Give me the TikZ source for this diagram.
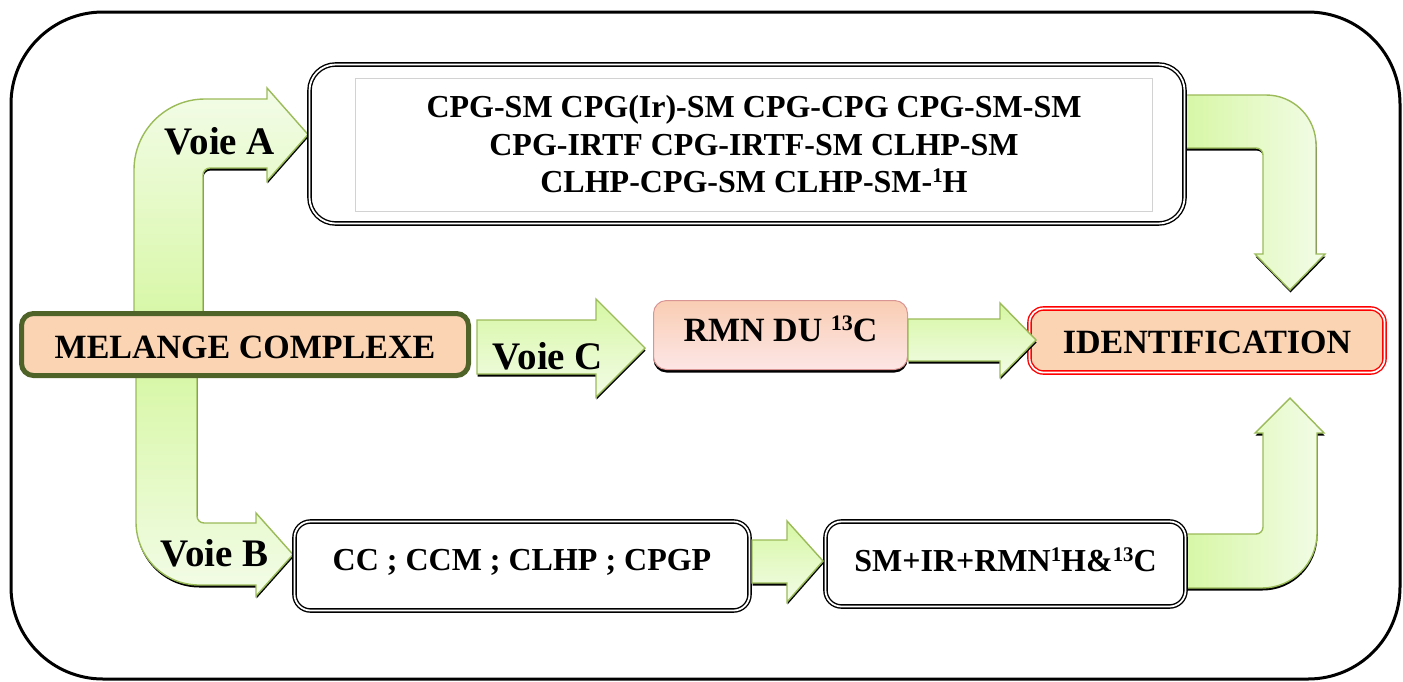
\documentclass[tikz,border=0pt]{standalone}
\usepackage{fontspec}
\setmainfont{Liberation Serif}
\usetikzlibrary{shadows}
\definecolor{peach}{HTML}{FBD4B4}
\definecolor{oliveb}{HTML}{4F6228}
\definecolor{gdark}{HTML}{D6F7A3}
\definecolor{glight}{HTML}{F3FCE8}
\definecolor{gedge}{HTML}{9BBB59}
\definecolor{rmntop}{HTML}{F9CDB3}
\definecolor{rmnbot}{HTML}{FDE6E6}
\definecolor{rmnedge}{HTML}{D99594}
\newcommand\supx[1]{\raisebox{0.33em}{\scalebox{0.65}{#1}}}
\newcommand\fsz[1]{\fontsize{#1}{#1}\selectfont\bfseries}
\newcommand\voieApath{(134,330) -- (134,170) arc[start angle=180,end angle=270,radius=71] -- (267,99) -- (267,88) -- (308,134.5) -- (267,181) -- (267,168) -- (210,168) arc[start angle=270,end angle=180,radius=7] -- (203,330) -- cycle}
\newcommand\voieBpath{(136,360) -- (136,522) arc[start angle=180,end angle=90,radius=63] -- (256,585) -- (256,596) -- (293,554.5) -- (256,513) -- (256,523) -- (204,523) arc[start angle=90,end angle=180,radius=7] -- (197,360) -- cycle}
\newcommand\topRpath{(1180,95) -- (1266,95) arc[start angle=270,end angle=360,radius=50] -- (1316,254) -- (1325,254) -- (1290,290) -- (1255,254) -- (1263,254) -- (1263,155) arc[start angle=0,end angle=-90,radius=7] -- (1180,148) -- cycle}
\newcommand\botRpath{(1180,588) -- (1262,588) arc[start angle=90,end angle=0,radius=55] -- (1317,433) -- (1324,433) -- (1290,398) -- (1255,433) -- (1263,433) -- (1263,527) arc[start angle=0,end angle=90,radius=7] -- (1180,534) -- cycle}
\tikzset{
  garrow/.style={draw=gedge, line width=1.4pt, line join=miter,
    drop shadow={shadow xshift=0.5pt, shadow yshift=-2.5pt, fill=black, draw=none, opacity=1}},
  gvdown/.style={garrow, top color=gdark, bottom color=glight},
  gvup/.style={garrow, top color=glight, bottom color=gdark},
  ghor/.style={garrow, left color=gdark, right color=glight},
  dblbox/.style={draw=black, double=white, double distance=1.8pt, line width=1.4pt, fill=white, inner sep=0pt},
  frame/.style={draw=black, line width=3pt, rounded corners=92pt, inner sep=0pt},
  voielbl/.style={font=\fsz{39}, inner sep=0pt},
}
\begin{document}
\begin{tikzpicture}[x=1pt,y=-1pt]
\useasboundingbox (0,0) rectangle (1403,681);
\node[frame, minimum width=1389pt, minimum height=667pt] (frame) at (705.5,345.5) {};

% bent and straight block arrows (behind the boxes)
\path[gvup] \voieApath;
\path[gvdown] \voieBpath;
\path[ghor] \topRpath;
\path[ghor] \botRpath;

% boxes
\node[dblbox, rounded corners=26pt, minimum width=875pt, minimum height=159pt] (ba) at (747,144) {};
\draw[gray!35, line width=1pt] (355,78) rectangle (1152,211);
\node[font=\fsz{32}, align=center, inner sep=0pt] (ta) at (754,144.5)
  {CPG-SM CPG(Ir)-SM CPG-CPG CPG-SM-SM\\[5.5pt]CPG-IRTF CPG-IRTF-SM CLHP-SM\\[5.5pt]CLHP-CPG-SM CLHP-SM-\supx{1}H};

\node[draw=oliveb, line width=5pt, fill=peach, rounded corners=12pt, inner sep=0pt,
  minimum width=447pt, minimum height=62pt, font=\fsz{34}, text height=28.5pt, text depth=0pt]
  (mel) at (245,344.5) {MELANGE COMPLEXE};

\node[draw=rmnedge, line width=1pt, top color=rmntop, bottom color=rmnbot, rounded corners=13pt, inner sep=0pt,
  minimum width=254pt, minimum height=69pt, font=\fsz{34}, text height=22.5pt, text depth=10pt,
  drop shadow={shadow xshift=0pt, shadow yshift=-3pt, fill=black, draw=none, opacity=1}]
  (rmn) at (780.5,335) {RMN DU \supx{13}C};

\node[dblbox, draw=red, fill=peach, rounded corners=14pt, minimum width=355pt, minimum height=64pt,
  font=\fsz{34}, text height=26.5pt, text depth=0pt] (id) at (1207,340.5) {IDENTIFICATION};

\node[dblbox, rounded corners=16pt, minimum width=455pt, minimum height=89pt,
  font=\fsz{32}, text height=21.2pt, text depth=12pt] (cc) at (522,566) {CC ; CCM ; CLHP ; CPGP};

\node[dblbox, rounded corners=16pt, minimum width=360pt, minimum height=85pt,
  font=\fsz{32}, text height=21.2pt, text depth=6pt] (sm) at (1005.5,564) {SM+IR+RMN\supx{1}H\&\supx{13}C};

% straight arrows between boxes
\path[gvdown] (477,320) -- (596,320) -- (596,299) -- (645,348) -- (596,397) -- (596,374) -- (477,374) -- cycle;
\path[gvdown] (908,319) -- (1000,319) -- (1000,303) -- (1036,340) -- (1000,377) -- (1000,361) -- (908,361) -- cycle;
\path[gvdown] (752,540) -- (787,540) -- (787,521) -- (823,561) -- (787,602) -- (787,583) -- (752,583) -- cycle;

% labels on arrows
\node[voielbl] (la) at (220,141) {Voie A};
\node[voielbl] (lb) at (214.5,553) {Voie B};
\node[voielbl] (lc) at (548,356) {Voie C};
\end{tikzpicture}
\end{document}
